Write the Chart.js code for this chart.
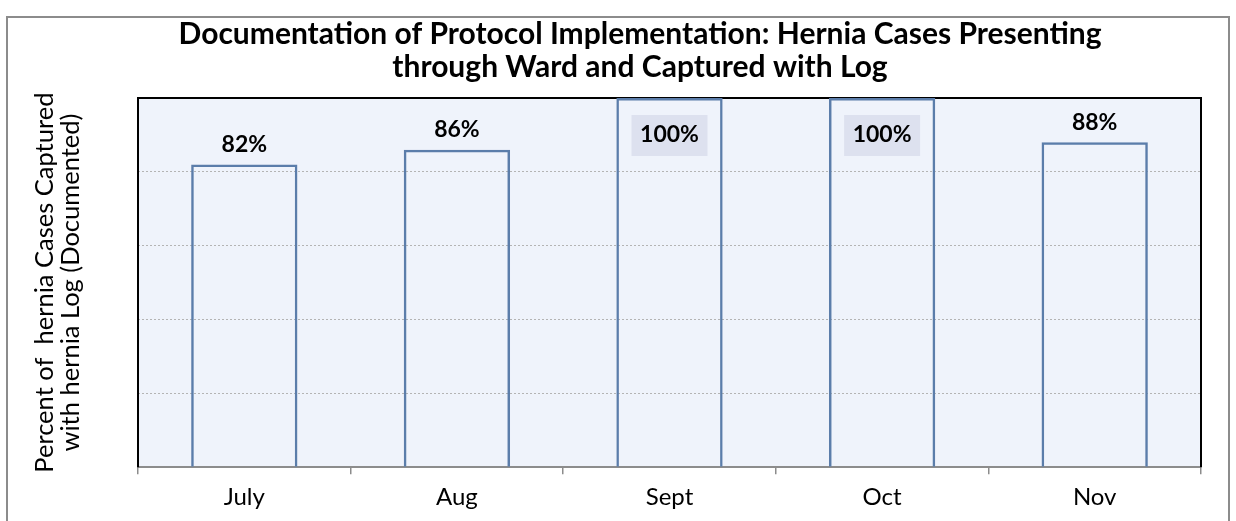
<!DOCTYPE html>
<html><head><meta charset="utf-8">
<script src="https://cdn.jsdelivr.net/npm/chart.js@4"></script>
<style>html,body{margin:0;padding:0;background:#fff;}#wrap{width:1236px;height:521px;}</style>
</head><body><div id="wrap"><canvas id="c" width="1236" height="521"></canvas></div>
<script>
const categories = ["July", "Aug", "Sept", "Oct", "Nov"];
const percentCaptured = [82, 86, 100, 100, 88];
const yTicks = [0, 20, 40, 60, 80, 100];
const chartTitle = ["Documentation of Protocol Implementation: Hernia Cases Presenting", "through Ward and Captured with Log"];
const yTitle = ["Percent of  hernia Cases Captured", "with hernia Log (Documented)"];

const FONT = "Lato, 'Open Sans', sans-serif";

const framePlugin = {
  id: 'frame',
  beforeDraw(chart) {
    const {ctx, chartArea: a} = chart;
    ctx.save();
    ctx.fillStyle = '#fff';
    ctx.fillRect(0, 0, chart.width, chart.height);
    ctx.strokeStyle = '#8c8c8c';
    ctx.lineWidth = 2;
    ctx.strokeRect(7, 17, 1222, 520);
    ctx.fillStyle = '#eff3fb';
    ctx.fillRect(a.left, a.top, a.right - a.left, a.bottom - a.top);
    // chart title
    ctx.fillStyle = '#000';
    ctx.font = "bold 30px " + FONT;
    ctx.textAlign = 'center';
    ctx.textBaseline = 'middle';
    ctx.fillText(chartTitle[0], 640, 34);
    ctx.fillText(chartTitle[1], 640, 67);
    ctx.restore();
  },
  beforeDatasetsDraw(chart) {
    const {ctx, chartArea: a} = chart;
    ctx.save();
    ctx.strokeStyle = '#000';
    ctx.lineWidth = 2;
    ctx.beginPath();
    ctx.moveTo(a.left, a.bottom);
    ctx.lineTo(a.left, a.top);
    ctx.lineTo(a.right, a.top);
    ctx.lineTo(a.right, a.bottom);
    ctx.stroke();
    ctx.restore();
  },
  afterDatasetsDraw(chart) {
    const {ctx} = chart;
    const meta = chart.getDatasetMeta(0);
    ctx.save();
    ctx.font = "bold 23px " + FONT;
    ctx.textAlign = 'center';
    ctx.textBaseline = 'middle';
    meta.data.forEach((bar, i) => {
      const v = chart.data.datasets[0].data[i];
      const txt = v + '%';
      if (v >= 100) {
        const cy = bar.y + 37;
        ctx.fillStyle = '#dde1ef';
        ctx.fillRect(bar.x - 38, cy - 20, 76, 41);
        ctx.fillStyle = '#000';
        ctx.fillText(txt, bar.x, cy);
      } else {
        ctx.fillStyle = '#000';
        ctx.fillText(txt, bar.x, bar.y - 20);
      }
    });
    ctx.restore();
  }
};

new Chart(document.getElementById('c'), {
  type: 'bar',
  data: {
    labels: categories,
    datasets: [{
      data: percentCaptured,
      backgroundColor: 'rgba(0,0,0,0)',
      borderColor: '#5b7daa',
      borderWidth: 2.5,
      barPercentage: 0.5,
      categoryPercentage: 1.0
    }]
  },
  options: {
    responsive: false,
    animation: false,
    devicePixelRatio: 1,
    layout: {padding: {left: 0, right: 35, top: 98, bottom: 0}},
    plugins: {
      legend: {display: false},
      tooltip: {enabled: false},
      title: {display: false}
    },
    scales: {
      x: {
        offset: true,
        grid: {offset: true, drawOnChartArea: false, drawTicks: true, tickLength: 7, color: '#8c8c8c', lineWidth: 1.5},
        border: {display: true, color: '#8c8c8c', width: 2},
        ticks: {color: '#000', font: {family: FONT, size: 24}, padding: 9}
      },
      y: {
        min: yTicks[0],
        max: yTicks[yTicks.length - 1],
        afterBuildTicks(scale) { scale.ticks = yTicks.map(v => ({value: v})); },
        ticks: {display: false},
        grid: {color: '#b4b4b4', lineWidth: 1, drawTicks: false, tickLength: 0},
        border: {display: false, dash: [2, 2]},
        title: {
          display: true,
          text: yTitle,
          color: '#000',
          font: {family: FONT, size: 25.5, lineHeight: 1.0},
          padding: {top: 32.5, bottom: 54.5}
        }
      }
    }
  },
  plugins: [framePlugin]
});
</script>
</body></html>
